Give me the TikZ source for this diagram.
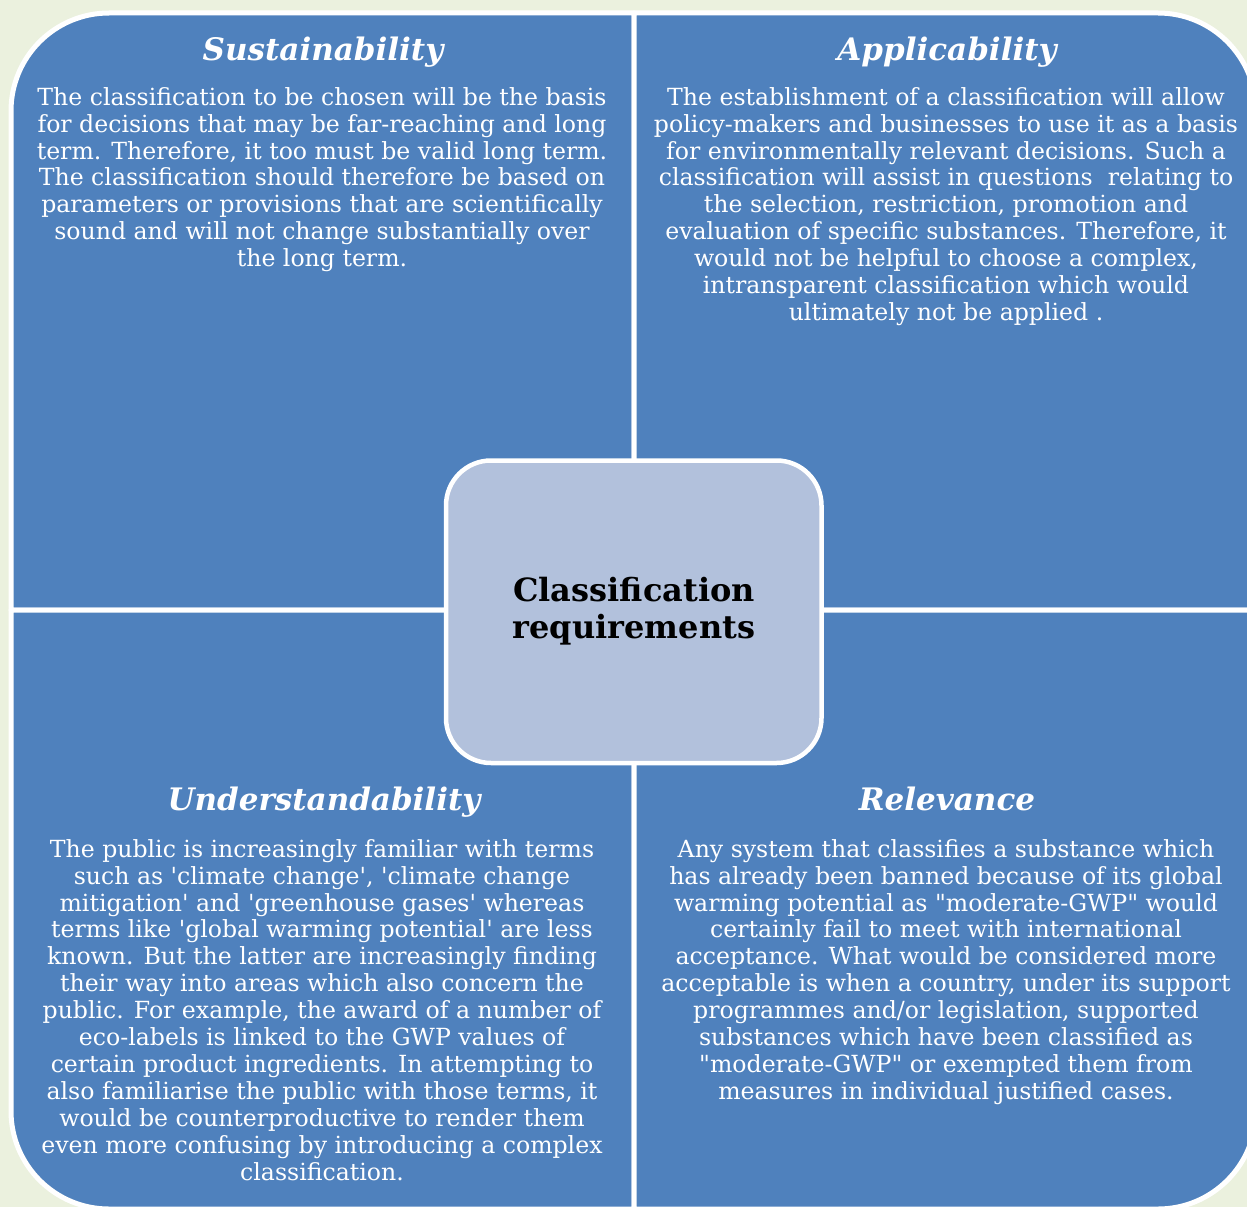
\documentclass[tikz,border=0pt]{standalone}
\usepackage{fontspec}
\setmainfont{DejaVu Serif}[Ligatures=TeXOff]
\definecolor{pagebg}{HTML}{EBF1DE}
\definecolor{quadblue}{HTML}{4F81BD}
\definecolor{hubfill}{HTML}{B2C1DC}

\begin{document}
\begin{tikzpicture}[x=1pt,y=-1pt,
  quadrant/.style={fill=quadblue,draw=white,line width=5pt,line join=round},
  hubbox/.style={fill=hubfill,draw=white,line width=4.5pt,rounded corners=45pt},
  heading/.style={font=\fontsize{31}{36}\selectfont\bfseries\itshape,text=white,anchor=base,inner sep=0pt},
  bodytext/.style={font=\fontsize{23.6}{26.95}\selectfont,text=white,align=center,anchor=north,inner sep=0pt},
  hubtext/.style={font=\fontsize{32}{37}\selectfont\bfseries,text=black,align=center,anchor=north,inner sep=0pt}]
  % page
  \fill[pagebg] (0,0) rectangle (1247,1207);
  \clip (0,0) rectangle (1247,1207);
  % four quadrants, rounded only at the outer corners
  \draw[quadrant] (11,610) -- (11,111) arc[start angle=180,end angle=270,radius=98] -- (634,13) -- (634,610) -- cycle;
  \draw[quadrant] (634,13) -- (1158,13) arc[start angle=270,end angle=360,radius=98] -- (1256,610) -- (634,610) -- cycle;
  \draw[quadrant] (11,610) -- (634,610) -- (634,1209) -- (109,1209) arc[start angle=90,end angle=180,radius=98] -- cycle;
  \draw[quadrant] (634,610) -- (1256,610) -- (1256,1111) arc[start angle=0,end angle=90,radius=98] -- (634,1209) -- cycle;
  % central box
  \draw[hubbox] (446,460.5) rectangle (821.5,763);
  \node[hubtext] (hub) at (634,577) {Classification\\requirements};

  % headings
  \node[heading] (sust) at (323,60) {Sustainability};
  \node[heading] (appl) at (947,60) {Applicability};
  \node[heading] (unde) at (324,810) {Understandability};
  \node[heading] (rele) at (947,810) {Relevance};

  % body texts
  \node[bodytext] (sustbody) at (322,87) {The classification to be chosen will be the basis\\
    for decisions that may be far-reaching and long\\
    term. Therefore, it too must be valid long term.\\
    The classification should therefore be based on\\
    parameters or provisions that are scientifically\\
    sound and will not change substantially over\\
    the long term.};
  \node[bodytext] (applbody) at (946,87) {The establishment of a classification will allow\\
    policy-makers and businesses to use it as a basis\\
    for environmentally relevant decisions. Such a\\
    classification will assist in questions\ \ relating to\\
    the selection, restriction, promotion and\\
    evaluation of specific substances. Therefore, it\\
    would not be helpful to choose a complex,\\
    intransparent classification which would\\
    ultimately not be applied .};
  \node[bodytext] (undebody) at (322,839) {The public is increasingly familiar with terms\\
    such as 'climate change', 'climate change\\
    mitigation' and 'greenhouse gases' whereas\\
    terms like 'global warming potential' are less\\
    known. But the latter are increasingly finding\\
    their way into areas which also concern the\\
    public. For example, the award of a number of\\
    eco-labels is linked to the GWP values of\\
    certain product ingredients. In attempting to\\
    also familiarise the public with those terms, it\\
    would be counterproductive to render them\\
    even more confusing by introducing a complex\\
    classification.};
  \node[bodytext] (relebody) at (946,839) {Any system that classifies a substance which\\
    has already been banned because of its global\\
    warming potential as "moderate-GWP" would\\
    certainly fail to meet with international\\
    acceptance. What would be considered more\\
    acceptable is when a country, under its support\\
    programmes and/or legislation, supported\\
    substances which have been classified as\\
    "moderate-GWP" or exempted them from\\
    measures in individual justified cases.};
\end{tikzpicture}
\end{document}
